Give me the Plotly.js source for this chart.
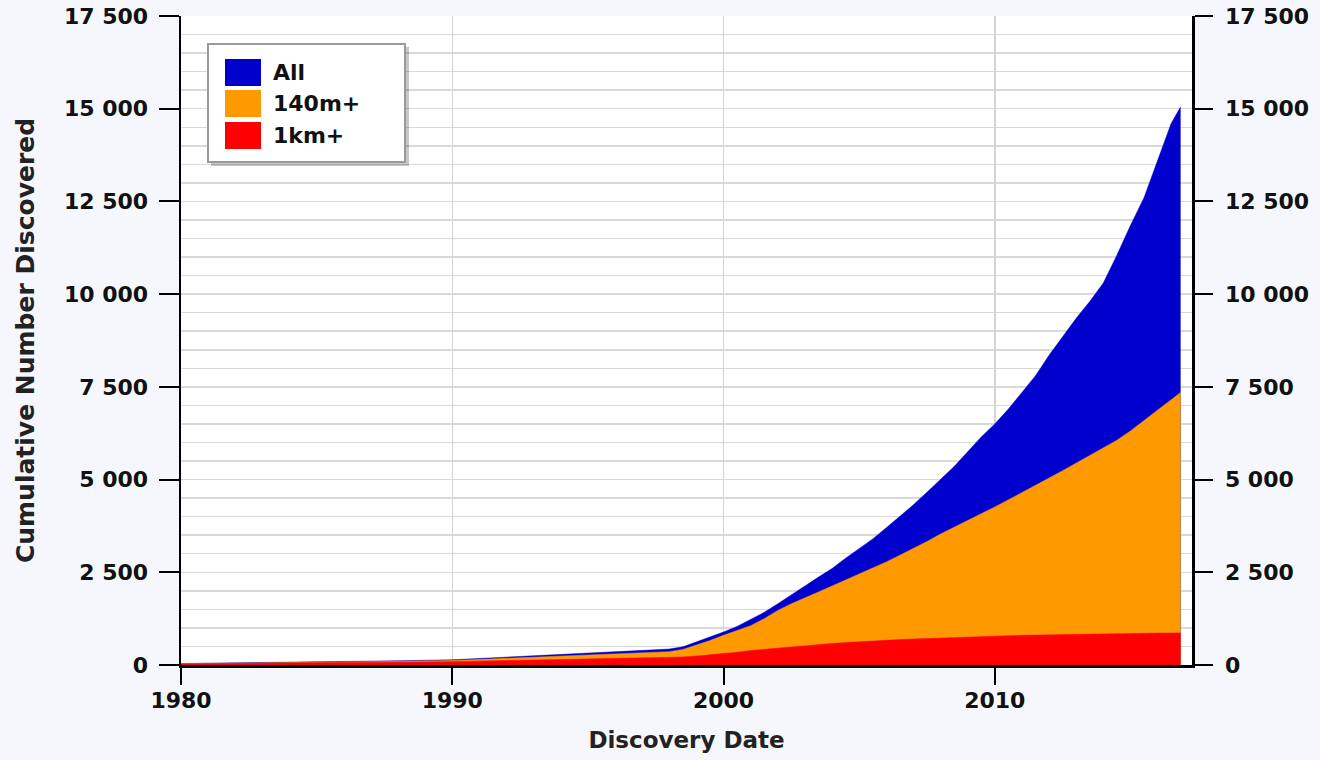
<!DOCTYPE html>
<html>
<head>
<meta charset="utf-8">
<script src="https://cdn.plot.ly/plotly-3.0.1.min.js"></script>
<style>html,body{margin:0;padding:0;background:#f5f7fc;}#chart{width:1320px;height:760px;}</style>
</head>
<body>
<div id="chart"></div>
<script>
// Discovery dates (decimal years)
const years = [1980, 1982, 1984, 1986, 1988, 1990, 1992, 1994, 1996, 1997, 1998, 1998.5,
  1999, 1999.5, 2000, 2000.5, 2001, 2001.5, 2002, 2002.5, 2003, 2003.5, 2004, 2004.5,
  2005, 2005.5, 2006, 2006.5, 2007, 2007.5, 2008, 2008.5, 2009, 2009.5, 2010, 2010.5,
  2011, 2011.5, 2012, 2012.5, 2013, 2013.5, 2014, 2014.5, 2015, 2015.5, 2016, 2016.5, 2016.85];

// Cumulative number discovered
const allNEA = [40, 55, 75, 95, 115, 140, 210, 280, 350, 390, 430, 490,
  620, 740, 890, 1040, 1220, 1420, 1650, 1880, 2130, 2370, 2600, 2880,
  3130, 3400, 3700, 4000, 4320, 4660, 5000, 5350, 5750, 6150, 6500, 6900,
  7350, 7800, 8350, 8850, 9350, 9800, 10300, 11050, 11850, 12600, 13600, 14600, 15050];

const m140 = [35, 45, 60, 80, 100, 120, 180, 240, 300, 330, 360, 420,
  530, 660, 800, 920, 1060, 1250, 1470, 1650, 1820, 1970, 2130, 2290,
  2450, 2610, 2780, 2960, 3140, 3330, 3530, 3720, 3900, 4080, 4260, 4450,
  4640, 4840, 5040, 5240, 5440, 5640, 5840, 6060, 6310, 6590, 6890, 7160, 7350];

const km1 = [30, 38, 48, 60, 75, 90, 120, 150, 175, 185, 200, 215,
  240, 270, 300, 345, 390, 425, 460, 495, 530, 555, 580, 605,
  630, 650, 670, 685, 700, 715, 730, 745, 760, 770, 780, 790,
  800, 808, 815, 822, 830, 835, 840, 845, 850, 855, 860, 862, 865];

const seriesNames = ['All', '140m+', '1km+'];
const seriesColors = ['#0000cc', '#ff9900', '#ff0000'];
const seriesValues = [allNEA, m140, km1];

const yTickVals = [0, 2500, 5000, 7500, 10000, 12500, 15000, 17500];
const xTickVals = [1980, 1990, 2000, 2010];

const traces = seriesValues.map((vals, i) => ({
  type: 'scatter',
  mode: 'lines',
  x: years,
  y: vals,
  name: seriesNames[i],
  fill: 'tozeroy',
  fillcolor: seriesColors[i],
  line: {color: seriesColors[i], width: 0.5},
  showlegend: false,
  hoverinfo: 'x+y+name'
}));

// helper trace so the right axis is drawn
traces.push({type: 'scatter', mode: 'lines', x: [years[0]], y: [0], yaxis: 'y2',
  showlegend: false, hoverinfo: 'skip', line: {width: 0}});

// plot area in pixels: left 181, right 1192, top 16, bottom 665
const PL = 181, PR = 1192, PT = 16, PB = 665;
const px = v => (v - PL) / (PR - PL);
const py = v => (PB - v) / (PB - PT);

const shapes = [
  {type: 'rect', xref: 'paper', yref: 'paper', x0: px(211), x1: px(409), y0: py(166), y1: py(47),
    fillcolor: 'rgba(0,0,0,0.22)', line: {width: 0}, layer: 'above'},
  {type: 'rect', xref: 'paper', yref: 'paper', x0: px(208), x1: px(405), y0: py(162), y1: py(44),
    fillcolor: '#ffffff', line: {color: '#9a9a9a', width: 2}, layer: 'above'}
];
const annotations = [];
const swTop = [59, 90, 122];
seriesNames.forEach((n, i) => {
  shapes.push({type: 'rect', xref: 'paper', yref: 'paper', x0: px(225), x1: px(261),
    y0: py(swTop[i] + 27), y1: py(swTop[i]), fillcolor: seriesColors[i], line: {width: 0}, layer: 'above'});
  annotations.push({xref: 'paper', yref: 'paper', x: px(271), y: py(swTop[i] + 13.5),
    xanchor: 'left', yanchor: 'middle', showarrow: false, text: n,
    font: {family: 'DejaVu Sans', size: 22, color: '#111', weight: 'bold'}});
});

const tickFont = {family: 'DejaVu Sans', size: 22, color: '#111', weight: 'bold'};

const layout = {
  width: 1320, height: 760,
  margin: {l: PL, r: 1320 - PR, t: PT, b: 760 - PB, pad: 0},
  paper_bgcolor: '#f5f7fc',
  plot_bgcolor: '#ffffff',
  separators: '. ',
  showlegend: false,
  xaxis: {
    range: [1980, 2017.27], tickvals: xTickVals, ticktext: xTickVals.map(String),
    ticks: 'outside', ticklen: 17, tickwidth: 2, tickcolor: '#000',
    showline: true, linecolor: '#000', linewidth: 2.5,
    showgrid: true, gridcolor: '#d4d4d4', gridwidth: 1.5, zeroline: false,
    tickfont: tickFont, ticklabelstandoff: -3,
    title: {text: 'Discovery Date', font: {family: 'DejaVu Sans', size: 23, color: '#222', weight: 'bold'}, standoff: 20}
  },
  yaxis: {
    range: [0, 17500], tickvals: yTickVals, tickformat: ',d',
    ticks: 'outside', ticklen: 20, tickwidth: 2, tickcolor: '#000',
    showline: true, linecolor: '#000', linewidth: 2.5,
    showgrid: true, gridcolor: '#d9d9d9', gridwidth: 1.5, zeroline: false,
    minor: {dtick: 500, tick0: 0, showgrid: true, gridcolor: '#d9d9d9', gridwidth: 1.5, ticks: ''},
    tickfont: tickFont, ticklabelstandoff: 6,
    title: {text: 'Cumulative Number Discovered', font: {family: 'DejaVu Sans', size: 25, color: '#222', weight: 'bold'}, standoff: 22}
  },
  yaxis2: {
    overlaying: 'y', side: 'right', range: [0, 17500], tickvals: yTickVals, tickformat: ',d',
    ticks: 'outside', ticklen: 18, tickwidth: 2, tickcolor: '#000',
    showline: true, linecolor: '#000', linewidth: 2.5,
    showgrid: false, zeroline: false,
    tickfont: tickFont, ticklabelstandoff: 8
  },
  shapes: shapes,
  annotations: annotations
};

Plotly.newPlot('chart', traces, layout, {displayModeBar: false, staticPlot: true});
</script>
</body>
</html>
